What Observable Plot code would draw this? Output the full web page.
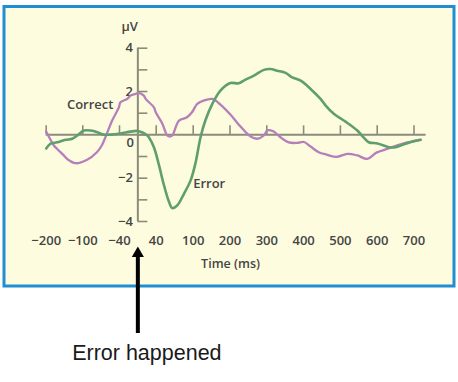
<!DOCTYPE html>
<html>
<head>
<meta charset="utf-8">
<script src="https://cdn.jsdelivr.net/npm/d3@7"></script>
<script src="https://cdn.jsdelivr.net/npm/@observablehq/plot@0.6"></script>
<style>
  html, body { margin: 0; padding: 0; background: #ffffff; }
  #chart svg { display: block; }
</style>
</head>
<body>
<div id="chart"></div>
<script>
// ---- data (time in ms, amplitude in µV) ----
const errorTime = [-200,-188,-170,-147,-129,-115,-98,-87,-76,-66,-55,-38,-16,-1,9,20,24,35,44,52,60,66,74,85,96,106,120,133,152,174,201,224,242,265,292,310,328,351,369,392,419,446,460,482,514,546,563,577,601,632,650,677,700,718];
const errorVolt = [-0.63,-0.41,-0.34,-0.23,-0.18,-0.03,0.2,0.2,0.12,0.01,0.01,0.06,0.15,0.18,0.12,-0.02,-0.11,-0.57,-1.34,-2.26,-3.03,-3.38,-3.26,-2.72,-2.09,-1.32,-0.11,0.66,1.43,2.04,2.39,2.38,2.55,2.73,3.0,3.04,2.96,2.86,2.65,2.5,2.12,1.66,1.35,0.97,0.61,0.2,-0.12,-0.34,-0.4,-0.57,-0.57,-0.41,-0.29,-0.23];

const correctTime = [-200,-179,-170,-152,-143,-120,-93,-77,-69,-63,-52,-41,-38,-23,-16,-5,1,13,17,35,39,50,58,62,66,77,90,98,111,128,152,174,201,224,256,274,292,301,307,319,337,360,383,401,419,441,464,489,519,546,573,598,627,654,682,700,718];
const correctVolt = [0.15,-0.49,-0.65,-0.95,-1.11,-1.31,-1.15,-0.8,-0.49,-0.11,0.66,1.27,1.5,1.66,1.81,1.89,1.94,1.81,1.66,1.27,1.04,0.51,-0.03,-0.08,-0.03,0.66,0.81,1.04,1.43,1.58,1.66,1.4,0.94,0.47,-0.08,-0.18,-0.03,0.2,0.22,0.15,-0.11,-0.35,-0.37,-0.33,-0.54,-0.8,-0.92,-1.02,-0.88,-0.95,-1.11,-0.82,-0.65,-0.49,-0.35,-0.29,-0.23];

const timeTicks = [-200,-100,-40,40,100,200,300,400,500,600,700];
const timeTickLabels = ["−200","−100","−40","40","100","200","300","400","500","600","700"];
const voltTicks = [-4,-3,-2,-1,0,1,2,3,4];
const voltLabelValues = [-4,-2,2,4];
const voltLabelTexts = ["−4","−2","2","4"];
const zeroLabel = ["0"];
const timeAxisExtent = [-200, 733];
const voltAxisExtent = [-4, 4];

const seriesLabels = ["Correct", "Error"];
const seriesLabelTime = [-50, 100];
const seriesLabelVolt = [1.4, -2.26];

const unitLabel = "µV";
const timeTitle = "Time (ms)";
const eventTime = 0;
const eventText = "Error happened";

// ---- tables built from the arrays ----
const errorData = errorTime.map((t, i) => ({t, v: errorVolt[i]}));
const correctData = correctTime.map((t, i) => ({t, v: correctVolt[i]}));
const xTickData = timeTicks.map((t, i) => ({t, label: timeTickLabels[i]}));
const yLabelData = voltLabelValues.map((v, i) => ({v, label: voltLabelTexts[i]}));
const seriesLabelData = seriesLabels.map((s, i) => ({s, t: seriesLabelTime[i], v: seriesLabelVolt[i]}));

const axisColor = "#8d8c7c";
const textColor = "#454545";
const font = "'Open Sans', sans-serif";

const chart = Plot.plot({
  width: 458,
  height: 382,
  marginLeft: 3.5,
  marginRight: 4.5,
  marginTop: 6,
  marginBottom: 96.5,
  style: {background: "#ffffff", fontFamily: font},
  x: {type: "linear", domain: [-200, -100, -40, 40, 100, 700], range: [45.7, 82.3, 119, 155.7, 192.7, 413.5], axis: null},
  y: {type: "linear", domain: [-4, 4], range: [221, 47.7], axis: null},
  marks: [
    Plot.frame({fill: "#fdfcdf", stroke: "#1f8fd1", strokeWidth: 3}),
    // axes
    Plot.ruleY([0], {x1: timeAxisExtent[0], x2: timeAxisExtent[1], stroke: axisColor, strokeWidth: 2}),
    Plot.ruleX([0], {y1: voltAxisExtent[0], y2: voltAxisExtent[1], stroke: axisColor, strokeWidth: 2}),
    Plot.ruleX(timeTicks, {x: d => d, y1: 0, y2: 0, insetTop: -9, stroke: axisColor, strokeWidth: 1.6}),
    Plot.ruleY(voltTicks, {y: d => d, x1: 0, x2: 0, insetRight: -10, stroke: axisColor, strokeWidth: 1.6}),
    Plot.text(xTickData, {x: "t", y: -4, text: "label", dy: 19, fill: textColor, fontSize: 13, fontWeight: 600}),
    Plot.text(yLabelData, {x: 0, y: "v", text: "label", dx: -5, textAnchor: "end", fill: textColor, fontSize: 13, fontWeight: 600}),
    Plot.text(zeroLabel, {x: 0, y: 0, text: d => d, dx: -4, dy: 7.5, textAnchor: "end", fill: textColor, fontSize: 13, fontWeight: 600}),
    Plot.text([unitLabel], {x: 0, y: 4, text: d => d, dy: -21, dx: 0, textAnchor: "end", fill: textColor, fontSize: 13, fontWeight: 600}),
    Plot.text([timeTitle], {frameAnchor: "bottom", lineAnchor: "middle", text: d => d, dx: 1.5, dy: -22, fill: textColor, fontSize: 12.5, fontWeight: 600}),
    // curves
    Plot.line(correctData, {x: "t", y: "v", curve: "catmull-rom", stroke: "#b57fba", strokeWidth: 2.3}),
    Plot.line(errorData, {x: "t", y: "v", curve: "catmull-rom", stroke: "#5f9e6d", strokeWidth: 2.6}),
    Plot.text(seriesLabelData.filter(d => d.s === "Correct"), {x: "t", y: "v", text: "s", textAnchor: "end", fill: textColor, fontSize: 13, fontWeight: 600}),
    Plot.text(seriesLabelData.filter(d => d.s === "Error"), {x: "t", y: "v", text: "s", textAnchor: "start", fill: textColor, fontSize: 13, fontWeight: 600}),
    // annotation below the box
    Plot.ruleX([eventTime], {x: d => d, insetTop: 248, insetBottom: -47.5, stroke: "#000", strokeWidth: 4}),
    Plot.dot([eventTime], {x: d => d, frameAnchor: "bottom", dy: -32.6, symbol: "triangle", r: 4.5, fill: "#000", stroke: "none"}),
    Plot.text([eventText], {x: eventTime, frameAnchor: "bottom", lineAnchor: "middle", text: d => d, dx: 9, dy: 67.5, fill: "#1a1a1a", fontSize: 21.5, fontFamily: "'Liberation Sans', Arial, sans-serif", fontWeight: 400})
  ]
});
document.getElementById("chart").appendChild(chart);
</script>
</body>
</html>
